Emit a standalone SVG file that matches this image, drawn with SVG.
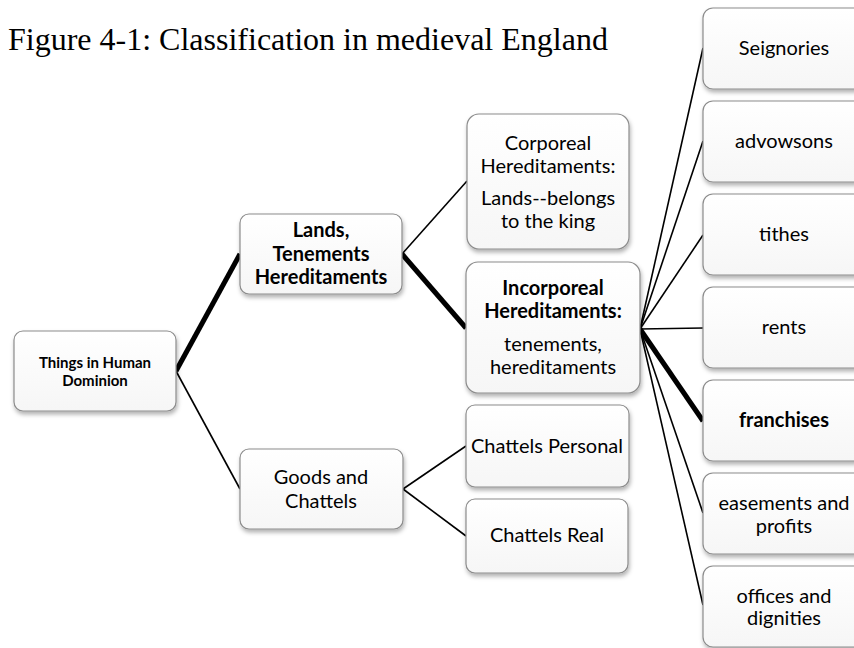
<svg xmlns="http://www.w3.org/2000/svg" width="854" height="648" viewBox="0 0 854 648">
  <defs>
    <linearGradient id="boxFill" x1="0" y1="0" x2="0" y2="1">
      <stop offset="0" stop-color="#ffffff"/>
      <stop offset="1" stop-color="#f6f6f6"/>
    </linearGradient>
    <filter id="shadow" x="-10%" y="-10%" width="125%" height="135%">
      <feDropShadow dx="1" dy="3" stdDeviation="2" flood-color="#000" flood-opacity="0.3"/>
    </filter>
  </defs>
  <style>
    .box { fill: url(#boxFill); stroke: #8c8c8c; stroke-width: 1.2; filter: url(#shadow); }
    .t { font-family: Lato, "Open Sans", sans-serif; font-size: 20px; fill: #000; text-anchor: middle; }
    .b { font-weight: bold; }
    .small { font-size: 15px; }
    .title { font-family: "Liberation Serif", serif; font-size: 32px; fill: #000; }
    .thin { stroke: #000; stroke-width: 1.6; fill: none; }
    .thick { stroke: #000; stroke-width: 5; fill: none; }
  </style>

  <rect width="854" height="648" fill="#ffffff"/>

  <text class="title" x="8" y="50">Figure 4-1: Classification in medieval England</text>

  <!-- connectors -->
  <g id="connectors">
    <line class="thick" x1="176" y1="371" x2="240" y2="254"/>
    <line class="thin" x1="176" y1="371" x2="240" y2="489"/>
    <line class="thin" x1="402" y1="254" x2="467" y2="181"/>
    <line class="thick" x1="402" y1="254" x2="466" y2="328"/>
    <line class="thin" x1="403" y1="489" x2="466" y2="446"/>
    <line class="thin" x1="403" y1="489" x2="466" y2="536"/>
    <line class="thin" x1="640" y1="329" x2="703" y2="48"/>
    <line class="thin" x1="640" y1="329" x2="703" y2="141"/>
    <line class="thin" x1="640" y1="329" x2="703" y2="235"/>
    <line class="thin" x1="640" y1="329" x2="703" y2="328"/>
    <line class="thick" x1="640" y1="329" x2="703" y2="421"/>
    <line class="thin" x1="640" y1="329" x2="703" y2="513"/>
    <line class="thin" x1="640" y1="329" x2="703" y2="605"/>
  </g>

  <g id="root">
    <rect class="box" x="14" y="331" width="162" height="80" rx="9"/>
    <text class="t b small" x="95" y="368">Things in Human</text>
    <text class="t b small" x="95" y="386">Dominion</text>
  </g>

  <g id="lands">
    <rect class="box" x="240" y="214" width="162" height="80" rx="9"/>
    <text class="t b" x="321" y="237">Lands,</text>
    <text class="t b" x="321" y="261">Tenements</text>
    <text class="t b" x="321" y="284">Hereditaments</text>
  </g>

  <g id="goods">
    <rect class="box" x="240" y="449" width="163" height="80" rx="9"/>
    <text class="t" x="321" y="484">Goods and</text>
    <text class="t" x="321" y="508">Chattels</text>
  </g>

  <g id="corporeal">
    <rect class="box" x="467" y="114" width="162" height="135" rx="12"/>
    <text class="t" x="548" y="150">Corporeal</text>
    <text class="t" x="548" y="173">Hereditaments:</text>
    <text class="t" x="548" y="205">Lands--belongs</text>
    <text class="t" x="548" y="228">to the king</text>
  </g>

  <g id="incorporeal">
    <rect class="box" x="466" y="262" width="174" height="131" rx="12"/>
    <text class="t b" x="553" y="295">Incorporeal</text>
    <text class="t b" x="553" y="318">Hereditaments:</text>
    <text class="t" x="553" y="351">tenements,</text>
    <text class="t" x="553" y="374">hereditaments</text>
  </g>

  <g id="chattels-personal">
    <rect class="box" x="466" y="405" width="163" height="82" rx="9"/>
    <text class="t" x="547" y="453">Chattels Personal</text>
  </g>

  <g id="chattels-real">
    <rect class="box" x="466" y="499" width="162" height="74" rx="9"/>
    <text class="t" x="547" y="542">Chattels Real</text>
  </g>

  <g id="seignories">
    <rect class="box" x="703" y="8" width="162" height="81" rx="10"/>
    <text class="t" x="784" y="55">Seignories</text>
  </g>

  <g id="advowsons">
    <rect class="box" x="703" y="101" width="162" height="81" rx="10"/>
    <text class="t" x="784" y="148">advowsons</text>
  </g>

  <g id="tithes">
    <rect class="box" x="703" y="194" width="162" height="81" rx="10"/>
    <text class="t" x="784" y="241">tithes</text>
  </g>

  <g id="rents">
    <rect class="box" x="703" y="287" width="162" height="81" rx="10"/>
    <text class="t" x="784" y="334">rents</text>
  </g>

  <g id="franchises">
    <rect class="box" x="703" y="380" width="162" height="81" rx="10"/>
    <text class="t b" x="784" y="427">franchises</text>
  </g>

  <g id="easements">
    <rect class="box" x="703" y="473" width="162" height="81" rx="10"/>
    <text class="t" x="784" y="510">easements and</text>
    <text class="t" x="784" y="533">profits</text>
  </g>

  <g id="offices">
    <rect class="box" x="703" y="566" width="162" height="81" rx="10"/>
    <text class="t" x="784" y="603">offices and</text>
    <text class="t" x="784" y="625">dignities</text>
  </g>
</svg>
